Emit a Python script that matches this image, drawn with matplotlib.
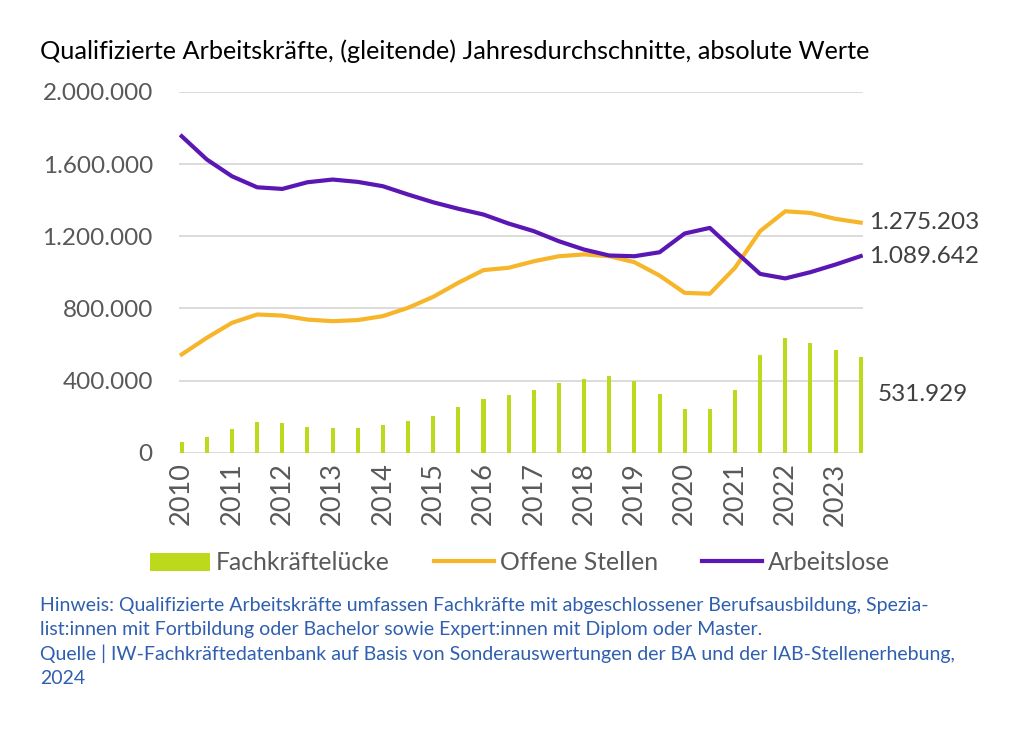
import numpy as np
import matplotlib.pyplot as plt
from matplotlib.ticker import FuncFormatter

plt.rcParams['font.family'] = ['Lato', 'DejaVu Sans']

# half-year periods, 2010 .. 2023 (second half)
periods = [f"{y}-{h}" for y in range(2010, 2024) for h in (1, 2)]
years = list(range(2010, 2024))

fachkraefteluecke = [58700, 88600, 133000, 169500, 166000, 144000, 138500, 138500,
                     151000, 173000, 206000, 251000, 299000, 319000, 350000, 384000,
                     410000, 424000, 397000, 327000, 244000, 244000, 347000, 539000,
                     633000, 609000, 572000, 531929]
offene_stellen = [544600, 637000, 720000, 766000, 760000, 738000, 729000, 735000,
                  757000, 803000, 864000, 942000, 1012000, 1025000, 1061000, 1089000,
                  1099000, 1089000, 1056000, 982000, 886000, 881000, 1025000, 1228000,
                  1338000, 1329000, 1296000, 1275203]
arbeitslose = [1754000, 1625000, 1532000, 1471000, 1462000, 1499000, 1514000, 1501000,
               1477000, 1431000, 1388000, 1352000, 1320000, 1270000, 1228000, 1172000,
               1126000, 1093000, 1089000, 1111000, 1215000, 1246000, 1117000, 991000,
               966000, 1000600, 1043000, 1089642]

note_lines = [
    "Hinweis: Qualifizierte Arbeitskräfte umfassen Fachkräfte mit abgeschlossener Berufsausbildung, Spezia-",
    "list:innen mit Fortbildung oder Bachelor sowie Expert:innen mit Diplom oder Master.",
    "Quelle | IW-Fachkräftedatenbank auf Basis von Sonderauswertungen der BA und der IAB-Stellenerhebung,",
    "2024",
]

GREEN = "#bcd91c"
ORANGE = "#f7b52a"
PURPLE = "#5a17b3"
GRID = "#d9d9d9"
TXT = "#595959"
BLUE = "#2f5fae"

def de_fmt(v):
    return f"{int(round(v)):,}".replace(",", ".")

x = np.arange(len(periods))

fig = plt.figure(figsize=(10.24, 7.29), dpi=100)
ax = fig.add_axes([0.175, 0.379, 0.668, 0.495])

bars = ax.bar(x, fachkraefteluecke, width=0.16, color=GREEN, label="Fachkräftelücke", zorder=2)
l1, = ax.plot(x, offene_stellen, color=ORANGE, lw=3, label="Offene Stellen", zorder=3,
              solid_joinstyle="round")
l2, = ax.plot(x, arbeitslose, color=PURPLE, lw=3, label="Arbeitslose", zorder=4,
              solid_joinstyle="round")

ax.set_xlim(-0.1, len(x) - 0.9)
ax.set_ylim(0, 2000000)
ax.set_yticks(np.arange(0, 2000001, 400000))
ax.yaxis.set_major_formatter(FuncFormatter(lambda v, p: de_fmt(v)))
ax.set_xticks(x[::2])
ax.set_xticklabels([str(y) for y in years], rotation=90)
ax.grid(axis="y", color=GRID, lw=1.3, zorder=0)
ax.set_axisbelow(True)
for s in ax.spines.values():
    s.set_visible(False)
ax.tick_params(axis="both", length=0, colors=TXT)
ax.tick_params(axis="y", labelsize=17.5, pad=19)
ax.tick_params(axis="x", labelsize=19.5, pad=7)

# end labels
last = len(x) - 1
ax.annotate(de_fmt(offene_stellen[-1]), (last, offene_stellen[-1]), xytext=(6, 0),
            textcoords="offset points", va="center", ha="left", fontsize=17.5,
            color="#404040")
ax.annotate(de_fmt(arbeitslose[-1]), (last, arbeitslose[-1]), xytext=(6, 0),
            textcoords="offset points", va="center", ha="left", fontsize=17.5,
            color="#404040")
ax.annotate(de_fmt(fachkraefteluecke[-1]), (last, fachkraefteluecke[-1]), xytext=(12, -27),
            textcoords="offset points", va="center", ha="left", fontsize=17.5,
            color="#404040")

fig.text(0.039, 0.93, "Qualifizierte Arbeitskräfte, (gleitende) Jahresdurchschnitte, absolute Werte",
         fontsize=18.2, color="black", va="center", ha="left")

leg = fig.legend([bars, l1, l2], ["Fachkräftelücke", "Offene Stellen", "Arbeitslose"],
                 loc="center", bbox_to_anchor=(0.508, 0.228), ncol=3, frameon=False,
                 fontsize=17.8, labelcolor=TXT, handlelength=2.4, handletextpad=0.25,
                 columnspacing=1.8, handleheight=0.75)

for i, line in enumerate(note_lines):
    fig.text(0.039, 1 - (606 + 24 * i) / 729, line, fontsize=14.0, color=BLUE,
             va="center", ha="left")

fig.savefig("out.png", dpi=100, facecolor="white")
